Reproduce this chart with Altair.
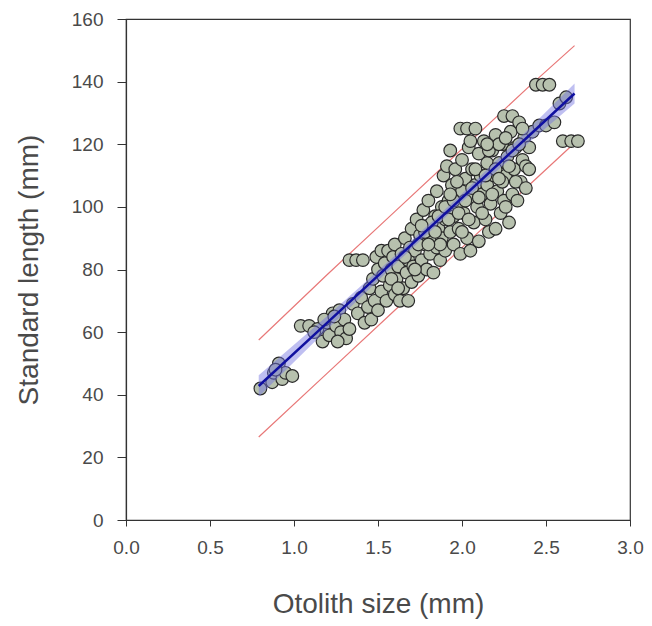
import altair as alt
import pandas as pd

# Scatter points: otolith size (mm) and standard length (mm)
otolith = [
    0.80, 0.87, 0.88, 0.91, 0.93, 0.95, 0.99, 0.89,
    1.04, 1.09, 1.14, 1.17, 1.20, 1.21, 1.23, 1.25, 1.27, 1.28, 1.30, 1.31, 1.33, 1.26,
    1.33, 1.37, 1.41, 1.35, 1.38, 1.40, 1.42, 1.44, 1.45, 1.46, 1.47, 1.48, 1.50, 1.50, 1.49, 1.52, 1.52,
    1.53, 1.54, 1.55, 1.56, 1.57, 1.58, 1.59, 1.60, 1.60, 1.61, 1.62, 1.63, 1.64, 1.65, 1.66, 1.67,
    1.68, 1.68, 1.69, 1.70, 1.70, 1.71,
    1.72, 1.73, 1.74, 1.75, 1.76, 1.77, 1.78, 1.79, 1.80, 1.80, 1.81, 1.82, 1.83, 1.84, 1.85, 1.85,
    1.86, 1.87, 1.88, 1.88, 1.89, 1.90, 1.90, 1.91, 1.92, 1.93, 1.93,
    1.94, 1.95, 1.95, 1.96, 1.97, 1.98, 1.99, 1.99, 2.00, 2.00, 2.01, 2.02, 2.03, 2.03, 2.04, 2.05,
    2.05, 2.06, 2.07, 2.08, 2.08, 2.09, 2.10, 2.10,
    2.11, 2.12, 2.13, 2.14, 2.15, 2.15, 2.16, 2.17, 2.18, 2.19, 2.20, 2.20, 2.21, 2.22, 2.23, 2.24,
    2.25, 2.25, 2.26, 2.27, 2.28, 2.29, 2.30, 2.30, 2.31, 2.32,
    2.33, 2.34, 2.35, 2.36, 2.37, 2.38, 2.40, 2.42, 2.44, 2.46, 2.48, 2.50, 2.52, 2.55, 2.58, 2.60,
    2.62, 2.65, 2.69,
    1.58, 1.62, 1.66, 1.72, 1.74, 1.78, 1.82, 1.86, 1.87, 1.90, 1.92, 1.95, 1.97, 1.98, 2.00, 2.02,
    2.04, 2.06, 2.08, 2.12, 2.14, 2.16, 2.18, 2.20, 2.22, 2.24, 2.26, 2.28, 2.30, 2.32, 2.34, 2.36,
    2.38, 2.40, 1.76, 1.80, 1.84, 1.93, 2.10, 2.26,
    1.12, 1.18, 1.24, 2.05, 2.15, 2.22,
]
length = [
    42, 44, 47, 50, 45, 47, 46, 48,
    62, 62, 61, 57, 63, 59, 66, 62, 67, 60, 64, 58, 61, 57,
    83, 83, 83, 69, 66, 71, 63, 68, 74, 64, 77, 70, 80, 67, 84, 73, 86,
    78, 82, 70, 86, 75, 80, 84, 72, 88, 77, 81, 70, 85, 74, 90, 79,
    70, 83, 87, 76, 93, 81,
    86, 96, 78, 91, 83, 99, 88, 80, 94, 102, 85, 90, 79, 97, 87, 105,
    93, 83, 100, 90, 110, 96, 86, 113, 102, 92, 118,
    107, 97, 88, 112, 101, 93, 125, 85, 105, 115, 98, 109, 90, 125, 119, 103,
    86, 112, 95, 125, 107, 100, 117, 89,
    110, 104, 121, 96, 114, 107, 92, 101, 118, 110, 93, 123, 105, 114, 98, 120,
    102, 129, 110, 116, 95, 124, 104, 129, 112, 119,
    102, 127, 108, 115, 122, 113, 119, 124, 139, 126, 139, 126, 139, 127, 133, 121,
    135, 121, 121,
    77, 74, 84, 80, 88, 92, 95, 97, 88, 100, 96, 102, 108, 98, 92, 102,
    96, 106, 112, 98, 110, 118, 104, 112, 120, 108, 122, 113, 118, 108, 120, 125,
    106, 112, 94, 88, 92, 104, 103, 100,
    60, 64, 65, 121, 120, 109,
]

# Regression line, 95% confidence band and prediction interval
fit_x = [0.79, 1.20, 1.60, 2.00, 2.40, 2.67]
fit_y = [42.8, 63.1, 83.0, 102.9, 122.8, 136.2]
conf_lo = [39.4, 61.0, 81.6, 101.6, 120.6, 133.0]
conf_hi = [46.2, 65.2, 84.4, 104.2, 125.0, 139.4]
pred_lo = [26.5, 47.0, 67.0, 87.0, 107.0, 120.4]
pred_hi = [57.5, 78.5, 98.5, 118.5, 138.5, 151.5]

pts = pd.DataFrame({"x": otolith, "y": length})
fit = pd.DataFrame({"x": fit_x, "y": fit_y, "lo": conf_lo, "hi": conf_hi,
                    "plo": pred_lo, "phi": pred_hi})

xs = alt.Scale(domain=[0, 3], nice=False, zero=False)
ys = alt.Scale(domain=[0, 160], nice=False)

xaxis = alt.Axis(title="Otolith size (mm)", values=[0, 0.5, 1, 1.5, 2, 2.5, 3], format=".1f",
                 tickSize=6, labelPadding=12, titlePadding=33, grid=False, labelFlush=False)
yaxis = alt.Axis(title="Standard length (mm)", values=list(range(0, 161, 20)),
                 tickSize=9, labelPadding=14, titlePadding=28, grid=False, labelFlush=False)

base = alt.Chart(fit)

pred_upper = base.mark_line(color="#e87878", strokeWidth=1.2).encode(
    x=alt.X("x:Q", scale=xs, axis=xaxis), y=alt.Y("phi:Q", scale=ys, axis=yaxis))
pred_lower = base.mark_line(color="#e87878", strokeWidth=1.2).encode(
    x=alt.X("x:Q", scale=xs), y=alt.Y("plo:Q", scale=ys))

points = alt.Chart(pts).mark_point(
    shape="circle", filled=True, size=160, fill="#b7c1ae", stroke="#2a2a2a",
    strokeWidth=1.2, opacity=1
).encode(x=alt.X("x:Q", scale=xs), y=alt.Y("y:Q", scale=ys))

band = base.mark_area(color="#7070e0", opacity=0.45).encode(
    x=alt.X("x:Q", scale=xs), y=alt.Y("lo:Q", scale=ys), y2="hi:Q")

line = base.mark_line(color="#1010a0", strokeWidth=2.5).encode(
    x=alt.X("x:Q", scale=xs), y=alt.Y("y:Q", scale=ys))

chart = alt.layer(pred_upper, pred_lower, points, band, line).properties(
    width=504, height=501,
    autosize=alt.AutoSizeParams(type="none"),
    padding={"left": 118, "top": 11, "right": 14, "bottom": 100},
).configure_view(stroke="#333333", strokeWidth=1.2).configure_axis(
    domainColor="#333333", domainWidth=1.2, tickColor="#333333",
    labelFont="Liberation Sans", labelFontSize=19, labelColor="#4a4a4a",
    titleFont="Liberation Sans", titleFontSize=28, titleColor="#4a4a4a",
    titleFontWeight="normal"
)

chart.save("out.html", embed_options={"renderer": "svg", "actions": False})
